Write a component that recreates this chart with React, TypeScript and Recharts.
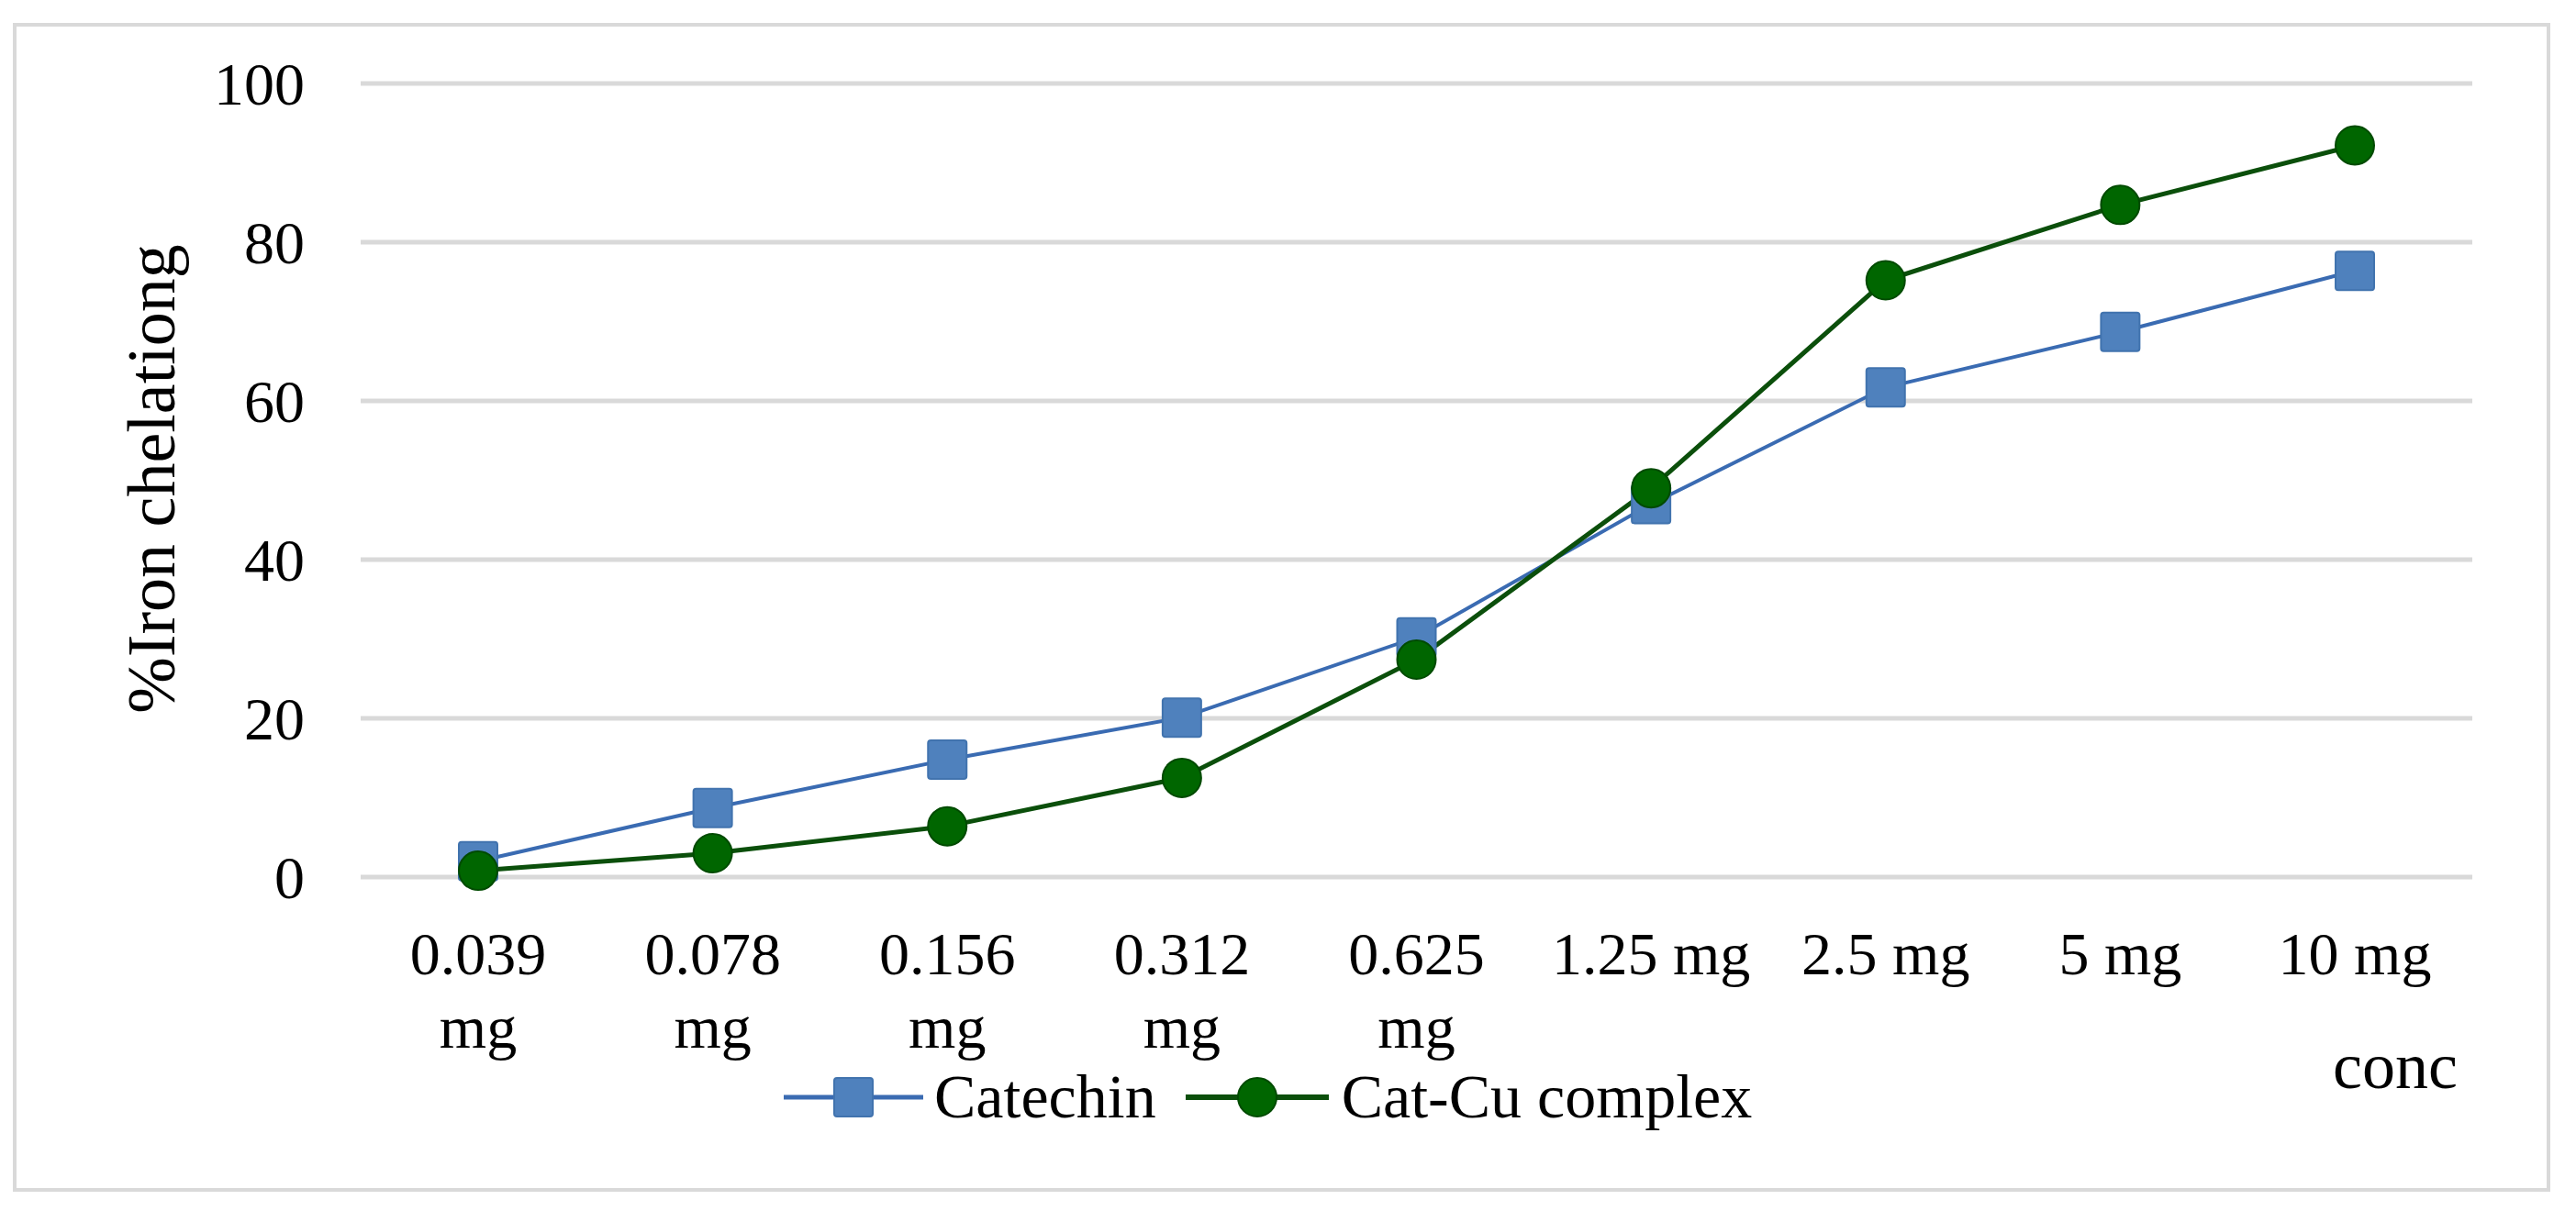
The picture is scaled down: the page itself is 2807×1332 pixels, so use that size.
import React from 'react';
import { LineChart, Line, XAxis, YAxis, CartesianGrid, Legend, Label } from 'recharts';

// concentrations on the x axis
const concentrations = ['0.039 mg', '0.078 mg', '0.156 mg', '0.312 mg', '0.625 mg', '1.25 mg', '2.5 mg', '5 mg', '10 mg'];
// % iron chelating
const catechin = [2, 8.7, 14.8, 20.1, 30.2, 47, 61.7, 68.7, 76.4];
const catCu = [0.8, 3, 6.4, 12.5, 27.4, 49, 75.2, 84.7, 92.2];
const yTicks = [0, 20, 40, 60, 80, 100];
const seriesNames = ['Catechin', 'Cat-Cu complex'];

const data = concentrations.map((c, i) => ({ conc: c, catechin: catechin[i], catCu: catCu[i] }));

const FONT = '"Liberation Serif", "Times New Roman", serif';
const BLUE_LINE = '#3A6BB2';
const BLUE_FILL = '#4F81BD';
const GREEN_LINE = '#0B4F0B';
const GREEN_FILL = '#006600';

const W = 2807;
const H = 1332;
const Y_AXIS_W = 200;
const X_AXIS_H = 120;

const SquareDot = (props: any) => {
  const { cx, cy, index } = props;
  if (cx == null || cy == null) return null;
  return (
    <rect key={`sq-${index}`} x={cx - 21} y={cy - 21} width={42} height={42} rx={3}
      fill={BLUE_FILL} stroke="#4173AE" strokeWidth={2} />
  );
};

const XTick = (props: any) => {
  const { x, y, payload } = props;
  const label: string = payload.value;
  const lines = label.length > 7 ? label.split(' ') : [label];
  return (
    <text x={x} y={y} textAnchor="middle" fontFamily={FONT} fontSize={66} fill="#000">
      {lines.map((l, i) => (
        <tspan key={i} x={x} dy={i === 0 ? 106 : 80}>{l}</tspan>
      ))}
    </text>
  );
};

const renderLegend = () => (
  <div style={{ display: 'flex', alignItems: 'center', fontFamily: FONT, fontSize: 68, color: '#000', whiteSpace: 'nowrap' }}>
    <svg width={152} height={50}>
      <line x1={0} y1={25} x2={152} y2={25} stroke={BLUE_LINE} strokeWidth={5} />
      <rect x={55} y={4} width={42} height={42} rx={3} fill={BLUE_FILL} stroke="#4173AE" strokeWidth={2} />
    </svg>
    <span style={{ marginLeft: 12 }}>{seriesNames[0]}</span>
    <svg width={156} height={50} style={{ marginLeft: 32 }}>
      <line x1={0} y1={25} x2={156} y2={25} stroke={GREEN_LINE} strokeWidth={6} />
      <circle cx={78} cy={25} r={21} fill={GREEN_FILL} stroke="#004A00" strokeWidth={2} />
    </svg>
    <span style={{ marginLeft: 14 }}>{seriesNames[1]}</span>
  </div>
);

export default function App() {
  return (
    <div style={{ position: 'absolute', left: 0, top: 0, width: W, height: H, background: '#fff' }}>
      <div style={{
        position: 'absolute', left: 14, top: 25, width: 2765, height: 1274,
        boxSizing: 'border-box', border: '4px solid #d9d9d9',
      }} />
      <div style={{ position: 'absolute', left: 0, top: 0 }}>
        <LineChart
          width={W}
          height={H}
          data={data}
          margin={{ top: 91, right: 113, bottom: 376 - X_AXIS_H, left: 393 - Y_AXIS_W }}
        >
          <CartesianGrid horizontal vertical={false} stroke="#d9d9d9" strokeWidth={5} />
          <XAxis
            dataKey="conc"
            height={X_AXIS_H}
            axisLine={false}
            tickLine={false}
            tickSize={0}
            tickMargin={0}
            interval={0}
            padding={{ left: 128, right: 128 }}
            tick={<XTick />}
          >
            <Label
              content={() => (
                <text x={2542} y={1186} fontFamily={FONT} fontSize={72} fill="#000">conc</text>
              )}
            />
          </XAxis>
          <YAxis
            width={Y_AXIS_W}
            domain={[0, 100]}
            ticks={yTicks}
            axisLine={false}
            tickLine={false}
            tickSize={0}
            tickMargin={61}
            tick={{ fontFamily: FONT, fontSize: 66, fill: '#000' }}
          >
            <Label
              content={() => (
                <text
                  x={165}
                  y={522}
                  transform="rotate(-90, 165, 522)"
                  textAnchor="middle"
                  dominantBaseline="central"
                  fontFamily={FONT}
                  fontSize={74}
                  fill="#000"
                >
                  %Iron chelationg
                </text>
              )}
            />
          </YAxis>
          <Legend
            layout="horizontal"
            verticalAlign="middle"
            align="center"
            content={renderLegend}
            wrapperStyle={{ left: 854, top: 1156, width: 'auto', height: 'auto' }}
          />
          <Line
            type="linear"
            dataKey="catechin"
            name={seriesNames[0]}
            stroke={BLUE_LINE}
            strokeWidth={4}
            dot={<SquareDot />}
            activeDot={false}
            isAnimationActive={false}
          />
          <Line
            type="linear"
            dataKey="catCu"
            name={seriesNames[1]}
            stroke={GREEN_LINE}
            strokeWidth={5}
            dot={{ r: 21, fill: GREEN_FILL, stroke: '#004A00', strokeWidth: 2 }}
            activeDot={false}
            isAnimationActive={false}
          />
        </LineChart>
      </div>
    </div>
  );
}
